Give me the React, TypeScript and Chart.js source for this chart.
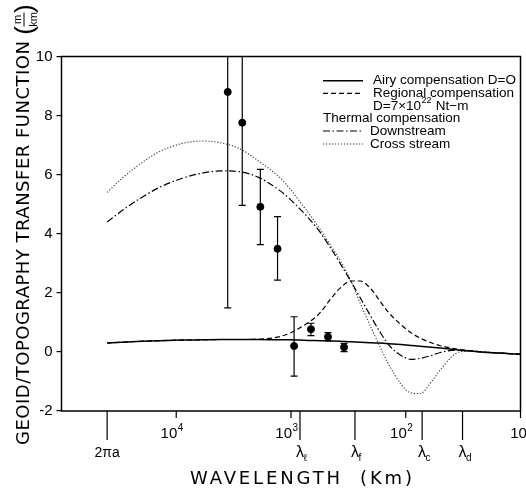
import React, { useEffect, useRef } from 'react';
import { Chart, registerables } from 'chart.js';

Chart.register(...registerables);

// ---------- DATA ----------
// Wavelength (km) sample positions shared by the model curves
const wavelengths = [40000, 30000, 20000, 14000, 9000, 6000, 4000, 2800, 1900, 1250, 1000, 850, 700, 560, 460, 375, 300, 250, 200, 170, 140, 110, 90, 75, 60, 50, 40, 34, 27, 22, 15, 10];

const airyValues = [0.30, 0.33, 0.36, 0.38, 0.40, 0.41, 0.42, 0.42, 0.42, 0.41, 0.41, 0.40, 0.39, 0.38, 0.37, 0.36, 0.34, 0.33, 0.31, 0.30, 0.28, 0.25, 0.22, 0.19, 0.16, 0.13, 0.09, 0.06, 0.03, 0.0, -0.04, -0.08];

const regionalValues = [0.30, 0.33, 0.36, 0.38, 0.40, 0.41, 0.42, 0.42, 0.43, 0.52, 0.65, 0.80, 1.0, 1.32, 1.75, 2.15, 2.40, 2.40, 2.12, 1.75, 1.32, 0.92, 0.65, 0.47, 0.31, 0.21, 0.13, 0.08, 0.04, 0.0, -0.04, -0.08];

const downstreamValues = [4.40, 4.77, 5.23, 5.57, 5.87, 6.05, 6.13, 6.10, 5.90, 5.46, 5.14, 4.87, 4.52, 4.06, 3.57, 3.01, 2.38, 1.84, 1.18, 0.71, 0.23, -0.12, -0.25, -0.22, -0.12, -0.02, 0.05, 0.06, 0.03, 0.0, -0.04, -0.08];

const crossStreamValues = [5.40, 5.86, 6.40, 6.78, 7.05, 7.14, 7.07, 6.88, 6.45, 5.90, 5.48, 5.12, 4.69, 4.16, 3.65, 3.11, 2.40, 1.66, 0.81, 0.23, -0.44, -1.09, -1.39, -1.41, -1.02, -0.61, -0.17, 0.0, 0.03, 0.0, -0.04, -0.08];

// Observed data points with error bars
const pointWavelengths = [3560, 2660, 1850, 1310, 940, 670, 476, 345];
const pointValues = [8.80, 7.76, 4.91, 3.49, 0.20, 0.77, 0.51, 0.16];
const pointLow = [1.49, 4.96, 3.63, 2.43, -0.82, 0.55, 0.37, 0.01];
const pointHigh = [10.0, 10.0, 6.18, 4.58, 1.19, 0.97, 0.65, 0.29];

// Axis ticks
const yTickMin = -2;
const yTickMax = 10;
const yTickStep = 2;
const decadeTickValues = [10000, 1000, 100, 10];
const decadeTickExponents = ['4', '3', '2', ''];
const specialTickValues = [40030, 835, 277, 72, 32];
const specialTickLabels = ['2\u03C0a', '\u03BB', '\u03BB', '\u03BB', '\u03BB'];
const specialTickSubscripts = ['', '\u2113', 'f', 'c', 'd'];

const seriesLabels = ['Airy compensation D=O', 'Regional compensation', 'Downstream', 'Cross stream'];

// ---------- STYLE ----------
const FONT_NARROW = '"Liberation Sans Narrow", "Liberation Sans", Arial, sans-serif';
const FONT_SANS = '"Liberation Sans", Arial, sans-serif';
const FONT_TITLE = '"DejaVu Sans", sans-serif';

const DASH_SOLID: number[] = [];
const DASH_REGIONAL = [5, 3];
const DASH_DOWN = [7, 2.5, 1.5, 2.5];
const DASH_CROSS = [1.2, 1.8];

function spacedText(ctx: CanvasRenderingContext2D, text: string, x: number, y: number, target: number) {
  (ctx as any).letterSpacing = '0px';
  const w = ctx.measureText(text).width;
  const sp = (target - w) / Math.max(1, text.length - 1);
  (ctx as any).letterSpacing = sp + 'px';
  ctx.textAlign = 'left';
  ctx.fillText(text, x, y);
  (ctx as any).letterSpacing = '0px';
}

const errorBarPlugin = {
  id: 'errorBars',
  afterDatasetsDraw(chart: any) {
    const { ctx, chartArea, scales } = chart;
    const xs = scales.x;
    const ys = scales.y;
    ctx.save();
    ctx.beginPath();
    ctx.rect(chartArea.left, chartArea.top, chartArea.right - chartArea.left, chartArea.bottom - chartArea.top);
    ctx.clip();
    ctx.strokeStyle = '#000';
    ctx.lineWidth = 1.2;
    pointWavelengths.forEach((w, i) => {
      const px = xs.getPixelForValue(w);
      const yl = ys.getPixelForValue(pointLow[i]);
      const yh = ys.getPixelForValue(pointHigh[i]);
      ctx.beginPath();
      ctx.moveTo(px, yl);
      ctx.lineTo(px, yh);
      ctx.moveTo(px - 3.5, yl);
      ctx.lineTo(px + 3.5, yl);
      ctx.moveTo(px - 3.5, yh);
      ctx.lineTo(px + 3.5, yh);
      ctx.stroke();
    });
    ctx.restore();
  },
};

const decorPlugin = {
  id: 'decor',
  afterDraw(chart: any) {
    const { ctx, chartArea, scales } = chart;
    const xs = scales.x;
    const { left, right, top, bottom } = chartArea;
    ctx.save();
    ctx.fillStyle = '#000';
    ctx.strokeStyle = '#000';

    // frame
    ctx.lineWidth = 1.5;
    ctx.setLineDash([]);
    ctx.strokeRect(left, top, right - left, bottom - top);

    // decade ticks (short) and labels
    ctx.lineWidth = 1.2;
    decadeTickValues.forEach((v, i) => {
      const px = xs.getPixelForValue(v);
      ctx.beginPath();
      ctx.moveTo(px, bottom);
      ctx.lineTo(px, bottom + 7);
      ctx.stroke();
      const sup = decadeTickExponents[i];
      ctx.textBaseline = 'alphabetic';
      ctx.font = '15px ' + FONT_NARROW;
      if (sup) {
        ctx.textAlign = 'right';
        ctx.fillText('10', px + 1, bottom + 27);
        ctx.textAlign = 'left';
        ctx.font = '10px ' + FONT_NARROW;
        ctx.fillText(sup, px + 1.5, bottom + 20);
      } else {
        ctx.textAlign = 'center';
        ctx.fillText('10', px - 2, bottom + 27);
      }
    });

    // special ticks (long) and labels
    specialTickValues.forEach((v, i) => {
      const px = xs.getPixelForValue(v);
      ctx.beginPath();
      ctx.moveTo(px, bottom);
      ctx.lineTo(px, bottom + 29);
      ctx.stroke();
      ctx.textBaseline = 'alphabetic';
      if (specialTickSubscripts[i]) {
        ctx.font = '16px ' + FONT_SANS;
        ctx.textAlign = 'center';
        ctx.fillText(specialTickLabels[i], px, bottom + 46);
        ctx.font = '10px ' + FONT_SANS;
        ctx.textAlign = 'left';
        ctx.fillText(specialTickSubscripts[i], px + 3.5, bottom + 50);
      } else {
        ctx.font = '14px ' + FONT_SANS;
        ctx.textAlign = 'center';
        ctx.fillText(specialTickLabels[i], px, bottom + 46);
      }
    });

    // x-axis title
    ctx.font = '18px ' + FONT_TITLE;
    ctx.textBaseline = 'alphabetic';
    spacedText(ctx, 'WAVELENGTH  (Km)', 190, 484, 222);

    // y-axis title (rotated)
    ctx.save();
    ctx.translate(29, 445);
    ctx.rotate(-Math.PI / 2);
    ctx.font = '18px ' + FONT_TITLE;
    ctx.textBaseline = 'alphabetic';
    spacedText(ctx, 'GEOID/TOPOGRAPHY TRANSFER FUNCTION', 0, 0, 404);
    // unit (m/km)
    ctx.font = '26px ' + FONT_SANS;
    ctx.textAlign = 'right';
    ctx.fillText('(', 419, 4);
    ctx.textAlign = 'left';
    ctx.fillText(')', 432, 4);
    ctx.font = '11px ' + FONT_SANS;
    ctx.textAlign = 'center';
    ctx.fillText('m', 425.5, -8);
    ctx.fillText('km', 425.5, 8);
    ctx.lineWidth = 1;
    ctx.beginPath();
    ctx.moveTo(418.5, -5);
    ctx.lineTo(432.5, -5);
    ctx.stroke();
    ctx.restore();

    // legend
    const sx0 = 323;
    const sx1 = 363;
    const tx = 373;
    const rows = [80.7, 93.3, 106, 118.5, 131, 144];
    const drawSample = (y: number, dash: number[], lw: number, color: string) => {
      ctx.setLineDash(dash);
      ctx.lineWidth = lw;
      ctx.strokeStyle = color;
      ctx.beginPath();
      ctx.moveTo(sx0, y);
      ctx.lineTo(sx1, y);
      ctx.stroke();
      ctx.setLineDash([]);
      ctx.strokeStyle = '#000';
    };
    drawSample(rows[0], DASH_SOLID, 1.5, '#000');
    drawSample(rows[1], DASH_REGIONAL, 1.2, '#000');
    drawSample(rows[4], DASH_DOWN, 1.2, '#000');
    drawSample(rows[5], DASH_CROSS, 1.1, '#333');
    ctx.font = '13.5px ' + FONT_SANS;
    ctx.textBaseline = 'middle';
    ctx.textAlign = 'left';
    ctx.fillText(seriesLabels[0], tx, rows[0]);
    ctx.fillText(seriesLabels[1], tx, rows[1]);
    const pre = 'D=7\u00D710';
    ctx.fillText(pre, tx, rows[2]);
    const pw = ctx.measureText(pre).width;
    ctx.font = '9px ' + FONT_SANS;
    ctx.fillText('22', tx + pw + 0.5, rows[2] - 5);
    const sw = ctx.measureText('22').width;
    ctx.font = '13.5px ' + FONT_SANS;
    ctx.fillText(' Nt\u2212m', tx + pw + sw + 1, rows[2]);
    ctx.fillText('Thermal compensation', sx0, rows[3]);
    ctx.fillText(seriesLabels[2], tx - 3, rows[4]);
    ctx.fillText(seriesLabels[3], tx - 3, rows[5]);

    ctx.restore();
  },
};

function makeSeries(values: number[]) {
  return wavelengths.map((w, i) => ({ x: w, y: values[i] }));
}

export default function App() {
  const canvasRef = useRef<HTMLCanvasElement | null>(null);

  useEffect(() => {
    document.body.style.margin = '0';
    const canvas = canvasRef.current;
    if (!canvas) return;
    const lineCommon = {
      type: 'line' as const,
      pointRadius: 0,
      fill: false,
      cubicInterpolationMode: 'monotone' as const,
      borderColor: '#000',
    };
    const chart = new Chart(canvas, {
      type: 'line',
      data: {
        datasets: [
          { ...lineCommon, label: seriesLabels[0], data: makeSeries(airyValues), borderWidth: 1.5, borderDash: DASH_SOLID },
          { ...lineCommon, label: seriesLabels[1], data: makeSeries(regionalValues), borderWidth: 1.2, borderDash: DASH_REGIONAL },
          { ...lineCommon, label: seriesLabels[2], data: makeSeries(downstreamValues), borderWidth: 1.2, borderDash: DASH_DOWN },
          { ...lineCommon, label: seriesLabels[3], data: makeSeries(crossStreamValues), borderWidth: 1.1, borderDash: DASH_CROSS, borderColor: '#333' },
          {
            type: 'scatter' as const,
            label: 'Observed',
            data: pointWavelengths.map((w, i) => ({ x: w, y: pointValues[i] })),
            pointRadius: 3.5,
            pointBackgroundColor: '#000',
            pointBorderColor: '#000',
            showLine: false,
          } as any,
        ],
      },
      options: {
        responsive: false,
        animation: false,
        events: [],
        layout: { padding: { left: 0, right: 5.5, top: 56.5, bottom: 0 } },
        plugins: { legend: { display: false }, tooltip: { enabled: false }, title: { display: false } },
        scales: {
          x: {
            type: 'logarithmic',
            reverse: true,
            min: 10,
            max: 100000,
            ticks: { display: false },
            grid: { display: false },
            border: { display: false },
            afterFit: (s: any) => { s.height = 80; },
          },
          y: {
            type: 'linear',
            min: yTickMin,
            max: yTickMax,
            ticks: { stepSize: yTickStep, color: '#000', font: { size: 15, family: FONT_NARROW }, padding: 4 },
            grid: { drawOnChartArea: false, drawTicks: true, tickLength: 5, color: '#000', lineWidth: 1.2 },
            border: { display: false },
            afterFit: (s: any) => { s.width = 61.5; },
          },
        },
      } as any,
      plugins: [errorBarPlugin, decorPlugin],
    });
    return () => chart.destroy();
  }, []);

  return (
    <div style={{ width: 526, height: 491, background: '#fff' }}>
      <canvas ref={canvasRef} width={526} height={491} style={{ width: 526, height: 491, display: 'block' }} />
    </div>
  );
}
